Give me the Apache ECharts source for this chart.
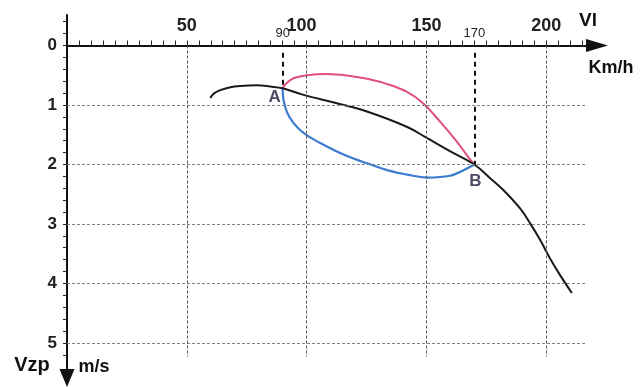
<!DOCTYPE html>
<html>
<head>
<meta charset="utf-8">
<script src="https://cdn.jsdelivr.net/npm/echarts@6/dist/echarts.min.js"></script>
<style>
html,body{margin:0;padding:0;background:#fff;}
#c{width:641px;height:387px;}
</style>
</head>
<body>
<div id="c"></div>
<script>
// ---- data ----
const xTickLabels = [50, 90, 100, 150, 170, 200];
const smallXLabels = [90, 170];
const yTickLabels = [0, 1, 2, 3, 4, 5];
const gridVi = [50, 100, 150, 200];
const gridVz = [1, 2, 3, 4, 5];

const polarVi = [59.8, 61.5, 64.0, 68.2, 72.3, 79.3, 84.8, 90, 98.7, 112.6, 125.2, 142, 150, 160, 170, 176.6, 182.1, 189.1, 193.3, 197.5, 201.6, 205.8, 210.7];
const polarVz = [0.88, 0.80, 0.75, 0.70, 0.68, 0.67, 0.69, 0.72, 0.83, 0.97, 1.11, 1.37, 1.55, 1.78, 2.00, 2.23, 2.43, 2.74, 2.99, 3.27, 3.58, 3.86, 4.16];

const pinkVi = [90, 91.2, 94.5, 100.1, 108.5, 119.6, 125.2, 133, 141.9, 148.6, 155.7, 162.8, 167, 170];
const pinkVz = [0.72, 0.65, 0.55, 0.50, 0.48, 0.52, 0.56, 0.64, 0.78, 0.97, 1.28, 1.62, 1.85, 2.00];

const blueVi = [90, 90.3, 91.8, 94.5, 98.7, 105.7, 112.6, 119.6, 125.2, 134, 142, 150.3, 159.9, 165.3, 170];
const blueVz = [0.72, 0.90, 1.12, 1.30, 1.47, 1.64, 1.78, 1.90, 1.98, 2.10, 2.17, 2.22, 2.19, 2.10, 2.00];

const pointNames = ['A', 'B'];
const pointVi = [90, 170];
const pointVz = [0.72, 2.00];

// ---- build ----
const zip = (a, b) => a.map((v, i) => [v, b[i]]);
const FONT = "'Liberation Sans', Arial, Helvetica, sans-serif";

const xTicks = [];
for (let i = 1; i <= 43; i++) xTicks.push(i * 5);
const yTicks = [];
for (let i = -2; i <= 26; i++) yTicks.push(Math.round(i * 2) / 10);

const gridLines = [];
gridVz.forEach(v => gridLines.push([
  { coord: [0, v], lineStyle: { color: '#7d838d', width: 1, type: [3, 2] } },
  { coord: [217, v] }
]));
gridVi.forEach(v => gridLines.push([
  { coord: [v, 0], lineStyle: { color: '#555', width: 1, type: [3, 2] } },
  { coord: [v, 5.23] }
]));
const refLines = pointVi.map((v, i) => [
  { coord: [v, 0.12], lineStyle: { color: '#111', width: 2, type: [5, 4] } },
  { coord: [v, pointVz[i]] }
]);

const chart = echarts.init(document.getElementById('c'), null, { renderer: 'canvas' });
chart.setOption({
  animation: false,
  backgroundColor: '#fff',
  grid: { left: 67, top: 15, right: 44, bottom: 9, containLabel: false, outerBoundsMode: 'none' },
  xAxis: {
    type: 'value',
    position: 'top',
    min: 0,
    max: 221.2,
    axisLine: {
      onZero: true,
      lineStyle: { color: '#111', width: 2 },
      symbol: ['none', 'triangle'],
      symbolSize: [13, 22]
    },
    axisTick: { show: true, inside: false, length: 5, customValues: xTicks, lineStyle: { color: '#222', width: 1 } },
    splitLine: { show: false },
    axisLabel: {
      customValues: xTickLabels,
      margin: -25,
      formatter: v => smallXLabels.includes(v) ? '{s|' + v + '}' : (v === 100 ? '{c|' + v + '}' : '{b|' + v + '}'),
      rich: {
        b: { fontSize: 18, fontWeight: 'bold', color: '#222', fontFamily: FONT, padding: [0, 0, 5, 0] },
        c: { fontSize: 18, fontWeight: 'bold', color: '#222', fontFamily: FONT, padding: [0, 10, 5, 0] },
        s: { fontSize: 13, color: '#222', fontFamily: FONT }
      }
    }
  },
  yAxis: {
    type: 'value',
    inverse: true,
    min: -0.513,
    max: 5.59,
    axisLine: {
      onZero: true,
      lineStyle: { color: '#111', width: 2 },
      symbol: ['triangle', 'none'],
      symbolSize: [15, 18]
    },
    axisTick: { show: true, inside: false, length: 4, customValues: yTicks, lineStyle: { color: '#222', width: 1 } },
    splitLine: { show: false },
    axisLabel: {
      customValues: yTickLabels,
      margin: 10,
      fontSize: 17,
      fontWeight: 'bold',
      color: '#222',
      fontFamily: FONT
    }
  },
  series: [
    {
      name: 'grid',
      type: 'line',
      data: [],
      z: 1,
      silent: true,
      markLine: { silent: true, symbol: ['none', 'none'], label: { show: false }, data: gridLines.concat(refLines), animation: false }
    },
    {
      name: 'polar',
      type: 'line',
      data: zip(polarVi, polarVz),
      smooth: 0.4,
      showSymbol: false,
      z: 3,
      lineStyle: { color: '#1a1a1a', width: 2 }
    },
    {
      name: 'pink',
      type: 'line',
      data: zip(pinkVi, pinkVz),
      smooth: 0.4,
      showSymbol: false,
      z: 2,
      lineStyle: { color: '#e0507f', width: 2 }
    },
    {
      name: 'blue',
      type: 'line',
      data: zip(blueVi, blueVz),
      smooth: 0.4,
      showSymbol: false,
      z: 2,
      lineStyle: { color: '#3a7bd0', width: 2.2 }
    },
    {
      name: 'points',
      type: 'scatter',
      data: pointNames.map((n, i) => ({
        name: n,
        value: [pointVi[i], pointVz[i]],
        label: { offset: i === 0 ? [-8, 9] : [1, 17] }
      })),
      symbolSize: 0,
      z: 4,
      label: {
        show: true,
        position: 'inside',
        formatter: p => p.name,
        fontSize: 17,
        fontWeight: 'bold',
        color: '#1c1c3c',
        fontFamily: FONT
      }
    }
  ],
  graphic: [
    { type: 'text', x: 588, y: 21, style: { text: 'Vl', fill: '#111', font: 'bold 19px ' + FONT, align: 'center', verticalAlign: 'middle' } },
    { type: 'text', x: 611, y: 68, style: { text: 'Km/h', fill: '#111', font: 'bold 18px ' + FONT, align: 'center', verticalAlign: 'middle' } },
    { type: 'text', x: 32, y: 365, style: { text: 'Vzp', fill: '#111', font: 'bold 20px ' + FONT, align: 'center', verticalAlign: 'middle' } },
    { type: 'text', x: 94, y: 367, style: { text: 'm/s', fill: '#111', font: 'bold 18px ' + FONT, align: 'center', verticalAlign: 'middle' } }
  ]
});
</script>
</body>
</html>
